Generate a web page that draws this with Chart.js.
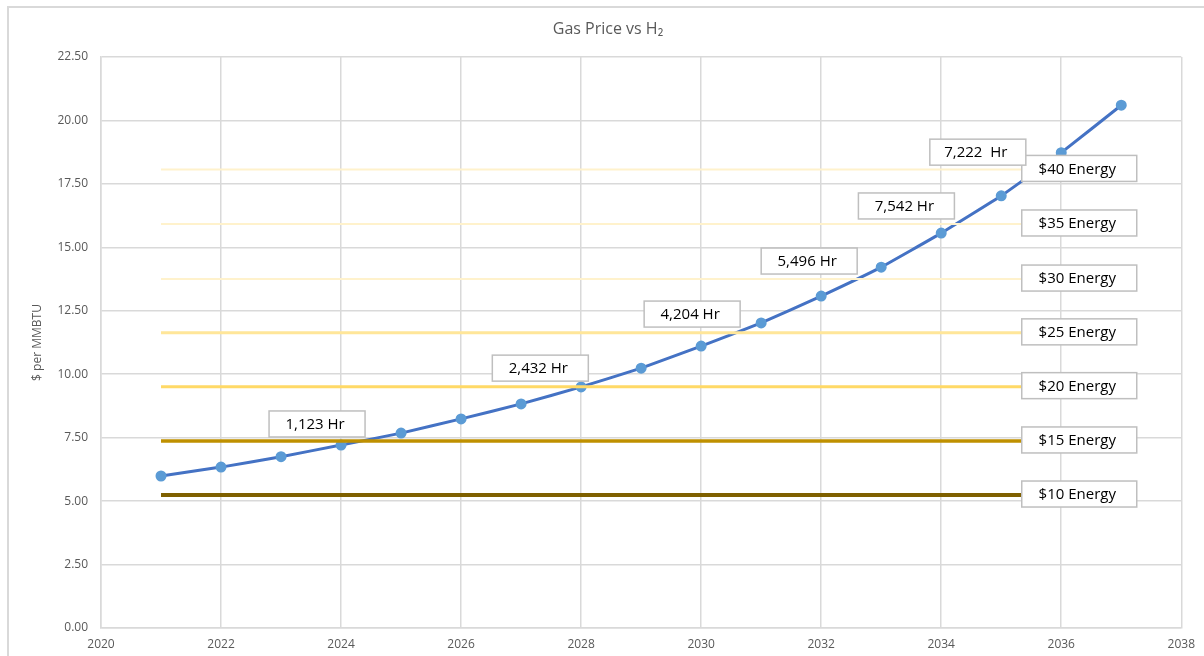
<!DOCTYPE html>
<html>
<head>
<meta charset="utf-8">
<script src="https://cdn.jsdelivr.net/npm/chart.js@4.4.1/dist/chart.umd.min.js"></script>
<style>
  html, body { margin: 0; padding: 0; background: #fff; }
  #wrap { width: 1204px; height: 656px; position: relative; }
</style>
</head>
<body>
<div id="wrap"><canvas id="gasChart"></canvas></div>
<script>
// gas price curve, $ per MMBTU
const years = [2021, 2022, 2023, 2024, 2025, 2026, 2027, 2028, 2029, 2030, 2031, 2032, 2033, 2034, 2035, 2036, 2037];
const gasPrice = [5.99, 6.34, 6.75, 7.21, 7.68, 8.24, 8.83, 9.50, 10.24, 11.11, 12.02, 13.08, 14.22, 15.56, 17.03, 18.73, 20.60];

// flat H2 energy-equivalent levels
const energyLabels = ['$10 Energy', '$15 Energy', '$20 Energy', '$25 Energy', '$30 Energy', '$35 Energy', '$40 Energy'];
const energyValues = [5.24, 7.37, 9.51, 11.63, 13.75, 15.92, 18.07];
const energyColors = ['#7f6000', '#bf9000', '#ffd966', '#ffe699', '#fff2cc', '#fff2cc', '#fff2cc'];
const energyWidths = [4, 3.5, 3, 3, 2, 2, 2];
const energyStart = 2021;
const energyEnd = 2037;
const energyLabelYear = 2036.3;

// hour call-outs
const hourLabels = ['1,123 Hr', '2,432 Hr', '4,204 Hr', '5,496 Hr', '7,542 Hr', '7,222  Hr'];
const hourYears = [2023.6, 2027.32, 2029.85, 2031.8, 2033.42, 2034.61];
const hourValues = [8.04, 10.24, 12.37, 14.46, 16.63, 18.75];

const xTicks = [2020, 2022, 2024, 2026, 2028, 2030, 2032, 2034, 2036, 2038];

const boxFont = '15px "Open Sans", "DejaVu Sans", sans-serif';
const axisFont = { family: '"Open Sans", "DejaVu Sans", sans-serif', size: 12 };

function drawBox(ctx, cx, cy, w, h, text) {
    ctx.save();
    ctx.fillStyle = '#ffffff';
    ctx.strokeStyle = '#bfbfbf';
    ctx.lineWidth = 1.5;
    ctx.fillRect(cx - w / 2, cy - h / 2, w, h);
    ctx.strokeRect(cx - w / 2, cy - h / 2, w, h);
    ctx.fillStyle = '#000000';
    ctx.font = boxFont;
    ctx.textAlign = 'center';
    ctx.textBaseline = 'middle';
    ctx.fillText(text, cx - 2, cy + 1);
    ctx.restore();
}

const calloutPlugin = {
    id: 'callouts',
    beforeDraw(chart) {
        const ctx = chart.ctx;
        ctx.save();
        ctx.strokeStyle = '#d9d9d9';
        ctx.lineWidth = 2;
        ctx.beginPath();
        ctx.moveTo(8, 656);
        ctx.lineTo(8, 7);
        ctx.lineTo(1204, 7);
        ctx.stroke();
        ctx.restore();
    },
    afterDatasetsDraw(chart) {
        const ctx = chart.ctx;
        const xs = chart.scales.x;
        const ys = chart.scales.y;
        energyLabels.forEach((lbl, i) => {
            drawBox(ctx, xs.getPixelForValue(energyLabelYear), ys.getPixelForValue(energyValues[i]) - 1, 115, 26, lbl);
        });
        hourLabels.forEach((lbl, i) => {
            drawBox(ctx, xs.getPixelForValue(hourYears[i]), ys.getPixelForValue(hourValues[i]), 96, 26, lbl);
        });
    }
};

const energySets = energyLabels.map((lbl, i) => ({
    label: lbl,
    data: [{ x: energyStart, y: energyValues[i] }, { x: energyEnd, y: energyValues[i] }],
    borderColor: energyColors[i],
    borderWidth: energyWidths[i],
    pointRadius: 0,
    fill: false
}));

const ctx = document.getElementById('gasChart').getContext('2d');
new Chart(ctx, {
    type: 'line',
    data: {
        datasets: [
            ...energySets.reverse(),
            {
                label: 'Gas Price',
                data: years.map((y, i) => ({ x: y, y: gasPrice[i] })),
                borderColor: '#4472c4',
                borderWidth: 3,
                pointRadius: 4,
                pointBackgroundColor: '#5b9bd5',
                pointBorderColor: '#5b9bd5',
                tension: 0.1,
                fill: false
            }
        ]
    },
    options: {
        responsive: true,
        maintainAspectRatio: false,
        animation: false,
        layout: { padding: { left: 30, right: 18, top: 0, bottom: 0 } },
        plugins: {
            legend: { display: false },
            tooltip: { enabled: false },
            title: {
                display: true,
                text: 'Gas Price vs H₂',
                color: '#595959',
                font: { family: '"Open Sans", "DejaVu Sans", sans-serif', size: 16, weight: 'normal' },
                padding: { top: 20, bottom: 17.8 }
            }
        },
        scales: {
            x: {
                type: 'linear',
                min: 2020,
                max: 2038,
                afterBuildTicks: s => { s.ticks = xTicks.map(v => ({ value: v })); },
                afterFit: s => { s.height = 28; },
                ticks: {
                    color: '#595959',
                    font: axisFont,
                    padding: 9,
                    maxRotation: 0,
                    callback: v => String(v)
                },
                grid: { color: '#d9d9d9', lineWidth: 1.5, drawTicks: false },
                border: { color: '#d9d9d9', width: 1.5 }
            },
            y: {
                min: 0,
                max: 22.5,
                afterFit: s => { s.width = 71; },
                ticks: {
                    stepSize: 2.5,
                    color: '#595959',
                    font: axisFont,
                    padding: 13,
                    callback: v => v.toFixed(2)
                },
                title: {
                    display: true,
                    text: '$ per MMBTU',
                    color: '#595959',
                    font: axisFont,
                    padding: 0
                },
                grid: { color: '#d9d9d9', lineWidth: 1.5, drawTicks: false },
                border: { color: '#d9d9d9', width: 1.5 }
            }
        }
    },
    plugins: [calloutPlugin]
});
</script>
</body>
</html>
